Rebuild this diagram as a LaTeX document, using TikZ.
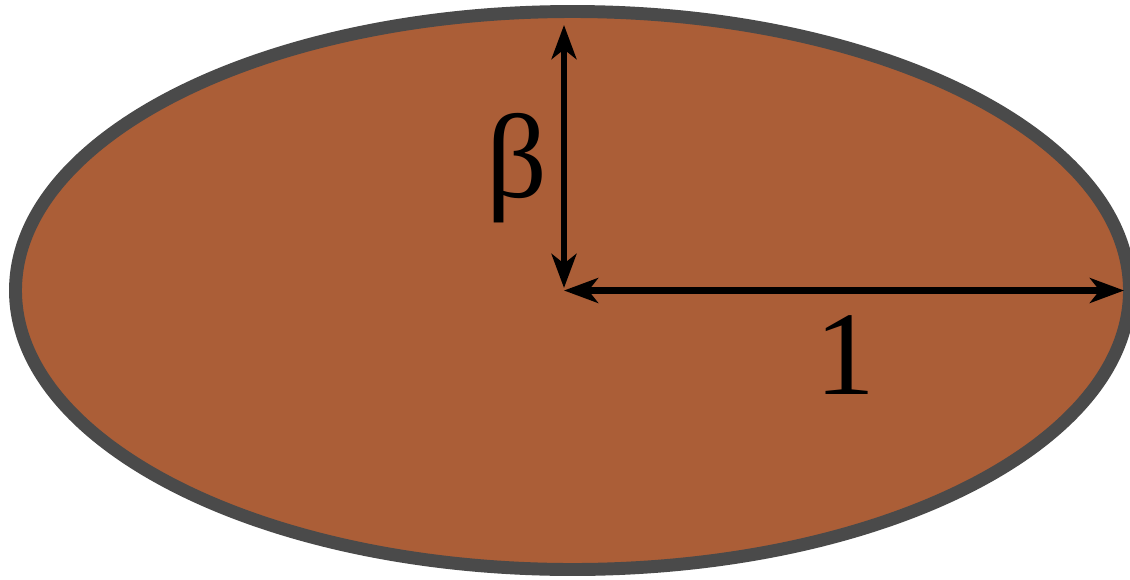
\documentclass[tikz,border=0pt]{standalone}
\usepackage{fontspec}
\newfontfamily\labelfont{Liberation Serif}
\usepackage{tikz}
\usetikzlibrary{arrows.meta}
\definecolor{diskBrown}{RGB}{171, 94, 55}
\definecolor{rimGray}{RGB}{74, 74, 74}

\begin{document}
\begin{tikzpicture}[x=0.025cm, y=-0.025cm,
    axisarrow/.style={line width=4.3pt, {Stealth[length=0.85cm, width=0.62cm, inset=0.24cm]}-{Stealth[length=0.85cm, width=0.62cm, inset=0.24cm]}},
    biglabel/.style={inner sep=0pt, font=\labelfont\fontsize{85}{90}\selectfont}]
        \useasboundingbox (0,0) rectangle (1130,579);
        \draw[line width=9.2pt, draw=rimGray, fill=diskBrown] (572.5,290.5) ellipse [x radius=557, y radius=279];
        \coordinate (centre) at (564,290.5);
        \coordinate (top) at (564,25);
        \coordinate (bottom) at (564,288);
        \coordinate (right) at (1124,290.5);
        \draw[axisarrow] (top) -- (bottom);
        \draw[axisarrow] (centre) -- (right);
        \node[biglabel] (beta) at (517,168) {β};
        \node[biglabel] (one) at (845,355) {1};
      \end{tikzpicture}
\end{document}
